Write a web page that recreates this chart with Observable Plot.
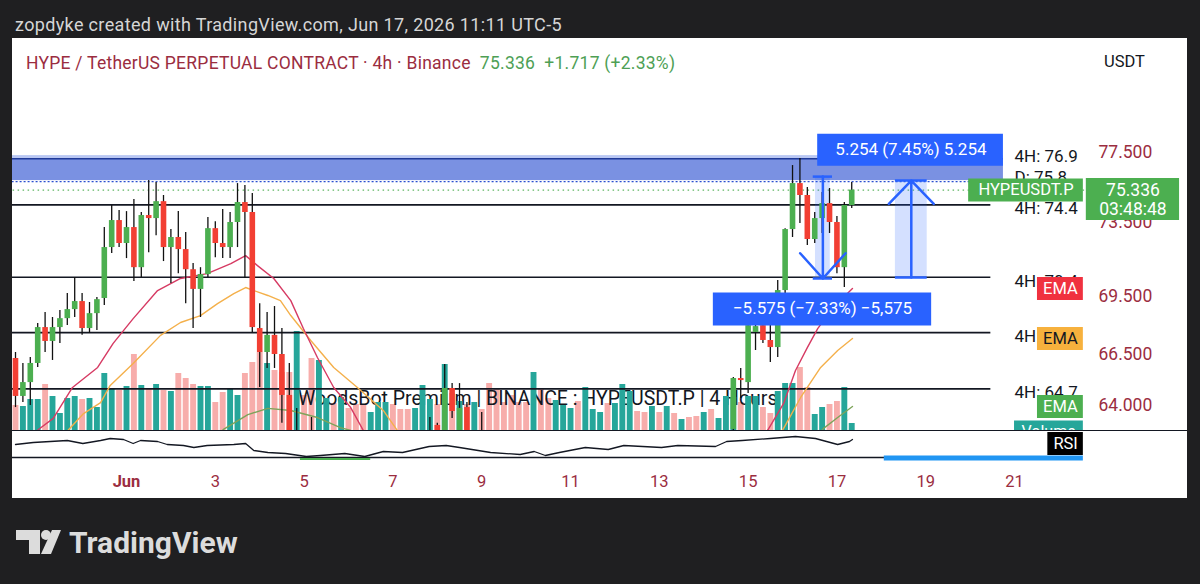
<!DOCTYPE html>
<html>
<head>
<meta charset="utf-8">
<script src="https://cdn.jsdelivr.net/npm/d3@7"></script>
<script src="https://cdn.jsdelivr.net/npm/@observablehq/plot@0.6"></script>
<style>
  html, body { margin:0; padding:0; }
  body { width:1200px; height:584px; background:#1f1f21; position:relative; overflow:hidden; font-family: Roboto, "Noto Sans", sans-serif; }
  .abs { position:absolute; }
  #topline { left:15px; top:14px; font-size:18px; letter-spacing:0.35px; line-height:22px; color:#d6d6d6; white-space:nowrap; }
  #panel { left:12px; top:38px; width:1175px; height:460px; background:#ffffff; }
  #title { left:26px; top:52px; font-size:17.5px; letter-spacing:0.25px; line-height:22px; white-space:nowrap; color:#9b2d3f; }
  #title .g { color:#4e9f55; }
  #usdt { left:1104px; top:51px; font-size:16.5px; line-height:22px; color:#131722; }
  #watermark { left:298px; top:387px; font-size:19.5px; line-height:24px; color:#131722; white-space:nowrap; }
  .layer { left:12px; overflow:hidden; }
  #volDown, #volUp, #main { top:38px; width:1175px; height:392px; }
  #rsi { top:430px; width:1175px; height:68px; }
  #sep { left:12px; top:430px; width:1175px; height:1px; background:#131722; }
  #logo { left:14px; top:526px; }
</style>
</head>
<body>
<div id="panel" class="abs"></div>
<div id="topline" class="abs">zopdyke created with TradingView.com, Jun 17, 2026 11:11 UTC-5</div>
<div id="title" class="abs">HYPE / TetherUS PERPETUAL CONTRACT · 4h · Binance&nbsp; <span class="g">75.336&nbsp; +1.717 (+2.33%)</span></div>
<div id="usdt" class="abs">USDT</div>
<div id="volDown" class="abs layer"></div>
<div id="watermark" class="abs">WoodsBot Premium | BINANCE : HYPEUSDT.P | 4 Hours</div>
<div id="volUp" class="abs layer"></div>
<div id="main" class="abs layer"></div>
<div id="rsi" class="abs layer"></div>
<div id="sep" class="abs"></div>
<div id="logo" class="abs">
  <svg width="240" height="40" viewBox="0 0 240 40">
    <path d="M2 4 H26 V28 H15 V14 H2 Z" fill="#dcdcdc"/>
    <circle cx="32" cy="9" r="5" fill="#dcdcdc"/>
    <polygon points="38,4 47,4 37,28 27,28" fill="#dcdcdc"/>
    <text x="55" y="27" font-size="30" font-weight="700" fill="#dcdcdc" font-family="Roboto, sans-serif">TradingView</text>
  </svg>
</div>
<script>
// 4h bars, index 0 = May 29 12:00; index 15 = Jun 1 00:00
const barIndex = d3.range(114);
const open = [66.32,64.44,65.12,66.07,67.89,67.18,67.89,68.35,68.82,69.24,
  67.84,68.61,69.40,72.13,73.62,72.35,73.23,71.04,73.90,73.73,
  74.68,72.13,72.68,72.02,70.93,69.88,70.67,73.17,72.35,72.13,
  73.51,74.63,74.07,67.84,66.62,67.49,66.52,64.49,62.50,null,
  62.40,null,null,null,null,null,null,null,null,null,
  null,null,null,null,null,null,62.30,63.04,62.40,64.83,
  62.50,63.90,null,62.40,null,null,null,null,null,null,
  null,null,null,null,null,null,null,null,null,null,
  null,null,null,null,null,null,null,null,null,null,
  null,null,null,null,null,null,null,62.85,65.32,65.12,
  67.64,67.99,67.23,66.87,69.82,73.12,75.71,75.03,72.57,73.73,
  74.57,73.51,71.04,74.46];
const close = [64.44,65.12,66.07,67.89,67.18,67.89,68.35,68.82,69.24,67.84,
  68.61,69.34,72.13,73.62,72.35,73.23,71.04,73.90,73.73,74.68,
  72.13,72.68,72.02,70.93,69.88,70.67,73.17,72.35,72.13,73.51,
  74.63,74.07,67.89,66.62,67.49,66.52,64.49,62.30,62.20,null,
  62.20,null,null,null,null,null,null,null,null,null,
  null,null,null,null,null,null,62.50,62.50,64.83,63.71,
  63.86,62.50,null,62.60,null,null,null,null,null,null,
  null,null,null,null,null,null,null,null,null,null,
  null,null,null,null,null,null,null,null,null,null,
  null,null,null,null,null,null,null,65.32,65.22,67.99,
  67.94,67.23,66.87,69.82,73.12,75.71,75.03,72.57,73.73,74.57,
  73.51,71.04,74.46,75.336];
const high = [66.62,66.07,66.37,68.10,68.67,68.41,68.77,69.66,70.51,69.66,
  69.19,69.45,73.23,74.46,74.18,74.12,74.80,74.07,75.88,75.77,
  75.03,73.12,74.12,72.95,71.26,71.04,73.79,73.56,74.24,74.07,
  75.71,75.60,75.14,69.13,68.67,68.98,67.84,66.07,63.86,null,
  63.42,null,null,null,null,null,null,null,null,null,
  null,null,null,null,null,null,63.42,63.14,66.02,65.07,
  65.07,64.14,null,63.66,null,null,null,null,null,null,
  null,null,null,null,null,null,null,null,null,null,
  null,null,null,null,null,null,null,null,null,null,
  null,null,null,null,null,null,null,65.37,65.82,68.51,
  68.51,68.82,68.41,70.35,73.17,76.75,77.16,75.48,74.07,75.20,
  75.43,73.85,74.63,75.77];
const low = [63.90,64.14,64.00,65.87,66.62,66.22,67.08,67.99,68.41,67.49,
  67.59,67.74,69.03,71.80,72.13,71.53,70.30,70.51,71.85,72.78,
  71.37,70.19,70.72,69.13,67.84,68.41,70.51,71.58,71.53,71.53,
  72.13,70.46,67.64,64.88,65.82,65.82,63.14,61.80,61.60,null,
  61.50,null,null,null,null,null,null,null,null,null,
  null,null,null,null,null,null,61.80,62.20,62.00,63.37,
  62.20,62.10,null,62.00,null,null,null,null,null,null,
  null,null,null,null,null,null,null,null,null,null,
  null,null,null,null,null,null,null,null,null,null,
  null,null,null,null,null,null,null,62.80,64.34,64.58,
  66.72,67.08,66.12,66.37,69.13,72.68,73.45,72.24,72.35,72.90,
  72.90,70.72,69.98,74.30];
const volume = [300,288,372,372,552,408,204,384,408,372,
  384,276,684,504,480,528,912,540,492,552,
  480,468,684,624,552,528,528,336,456,504,
  420,684,816,936,804,720,696,696,1188,420,
  864,840,384,324,396,264,312,300,216,336,
  336,312,252,252,264,540,372,312,792,444,
  348,312,336,252,564,492,336,420,336,336,
  696,504,384,360,300,264,348,516,252,216,
  324,324,552,468,228,216,288,216,288,204,
  132,156,168,216,252,144,408,396,336,408,
  408,276,204,468,564,564,756,516,192,276,
  312,348,516,84];
const volumeUp = [0,1,1,1,0,1,1,1,1,0,
  1,1,1,1,0,1,0,1,0,1,
  0,1,0,0,0,1,1,0,0,1,
  1,0,0,0,1,0,0,0,1,0,
  0,1,1,0,1,0,0,0,1,1,
  1,0,0,0,1,1,1,0,1,0,
  1,0,1,0,0,0,0,0,0,0,
  1,0,0,1,1,1,0,1,1,1,
  0,1,1,1,0,0,1,0,1,0,
  1,0,0,1,0,1,1,1,0,1,
  1,0,0,1,1,1,0,0,1,1,
  0,0,1,1];

const emaFastAt = [1.5,3.1,5.1,7.7,11.1,13.2,15.9,19.2,22.3,25.9,29.1,31.1,32.7,34.9,37.2,38.9,40.8,43.0,45.3,47.0,48.5,100.3,101.8,103.8,105.4,107.0,108.4,110.5,113.1];
const emaFast = [62.2,62.85,63.38,64.88,65.87,67.08,68.35,69.82,70.46,70.72,71.26,71.69,71.15,70.46,69.29,67.84,66.37,64.88,63.90,62.80,62.1,62.1,62.90,64.10,65.72,66.87,67.84,68.93,69.93];
const emaMidAt = [5.5,7.2,9.2,11.5,12.8,15.9,19.6,22.3,25.0,27.3,29.5,31.1,32.2,34.1,35.8,37.2,39.9,43.0,46.2,49.7,51.6,53.5,102.2,103.8,106.1,108.8,111.1,113.1];
const emaMid = [62.1,62.85,63.61,64.14,64.98,66.07,67.49,68.15,68.51,69.13,69.66,69.98,69.82,69.56,69.29,68.51,67.23,65.87,64.88,63.76,62.80,62.1,62.1,62.90,64.39,65.87,66.72,67.33];
const emaSlowAt = [26.0,28.1,31.4,34.1,37.2,40.8,43.9,45.3,47.5,107.5,109.2,111.1,113.1];
const emaSlow = [62.2,62.85,63.56,63.86,63.76,63.42,62.94,62.80,62.2,62.2,62.90,63.42,63.95];

const rsiAt = [0,2.4,7.0,9.1,11.5,12.8,14.6,15.9,16.9,19.2,20.5,22.7,24.1,25.9,29.5,31.1,32.2,34.1,36.5,39.3,41.2,44.5,47.2,49.7,52.3,55.9,58.2,60.0,64.2,68.2,70.1,71.6,73.5,77.0,80.1,82.2,87.3,89.5,94.6,96.1,98.2,102.0,105.4,108.1,110.1,111.1,112.7,113.1];
const rsi = [49.5,52.5,55.5,51,55.5,58.5,57,51,55.5,54,49.5,48,45,48,49.5,51,40.5,37.5,36,31.5,33,36,31.5,39,37.5,46.5,48,45,37.5,34.5,39,33,37.5,45,42,48,45,48,46.5,54,55.5,58.5,61.5,58.5,52.5,49.5,54,57];

const dayTicks = [15,27,39,51,63,75,87,99,111,123,135];
const dayLabels = ["Jun","3","5","7","9","11","13","15","17","19","21"];
const priceTicks = [77.5,73.5,69.5,66.5,64.0];

const levels = [74.50,70.53,67.63,64.81];
const levelLabels = ["4H: 74.4","4H: 70.4","4H: 67.6","4H: 64.7"];
const zoneTop = 77.33, zoneLine = 77.15, zoneBottom = 75.88, dailyLevel = 75.82;
const zoneLabels = ["4H: 76.9","D: 75.8"];
const zoneLabelAt = [77.27, 76.08];
const lastPrice = 75.336;
const countdown = "03:48:48";
const longMeasure = {from:70.51, to:75.88, label:"5.254 (7.45%) 5.254", labelAt:77.68};
const shortMeasure = {from:76.11, to:70.46, label:"\u22125.575 (\u22127.33%) \u22125,575", labelAt:68.85};

// ---- layout constants (index / price units)
const xDomain = [-0.405, 144.86];
const font = "Roboto, 'Noto Sans', sans-serif";
const upC = "#4caf50", downC = "#f23f33";
const teal = "#26a69a", pink = "#ef5350";
const labelX = 135.0;
const levelEnd = 131.8, zoneEnd = 133.5;

const candles = barIndex.map(i => ({i, o:open[i], h:high[i], l:low[i], c:close[i]})).filter(d => d.o != null);
const volRows = barIndex.map(i => ({i, v:volume[i], up:volumeUp[i]}));
const fastRows = emaFastAt.map((at,k) => ({at, v:emaFast[k]}));
const midRows = emaMidAt.map((at,k) => ({at, v:emaMid[k]}));
const slowRows = emaSlowAt.map((at,k) => ({at, v:emaSlow[k]}));
const rsiRows = rsiAt.map((at,k) => ({at, v:rsi[k]}));
const emaTags = [
  {v: emaFast[emaFast.length-1], bg:"#f0313f", fg:"#ffffff"},
  {v: emaMid[emaMid.length-1], bg:"#f7b13d", fg:"#131722"},
  {v: emaSlow[emaSlow.length-1], bg:"#4caf50", fg:"#ffffff"}
];
const levelRows = levels.map((v,k) => ({v, t:levelLabels[k]}));
const zoneRows = zoneLabels.map((t,k) => ({t, v:zoneLabelAt[k]}));

// ---- volume layers (down bars under the watermark, up bars above it)
function volumeLayer(rows, color, opacity) {
  return Plot.plot({
    width:1175, height:392, marginTop:0, marginRight:100, marginBottom:0, marginLeft:0,
    x:{domain:xDomain, axis:null},
    y:{domain:[0,1200], range:[392,292], axis:null},
    style:{background:"transparent", fontFamily:font},
    marks:[Plot.ruleX(rows, {x:"i", y1:0, y2:"v", stroke:color, strokeOpacity:opacity, strokeWidth:5.9})]
  });
}
document.getElementById("volDown").appendChild(volumeLayer(volRows.filter(d => !d.up), pink, 0.48));
document.getElementById("volUp").appendChild(volumeLayer(volRows.filter(d => d.up), teal, 1));

// ---- main price layer
const mainPlot = Plot.plot({
  width:1175, height:392, marginTop:0, marginRight:100, marginBottom:0, marginLeft:0,
  x:{domain:xDomain, axis:null},
  y:{type:"log", domain:[62.80, 84.50], axis:null},
  color:{type:"identity"},
  style:{background:"transparent", fontFamily:font},
  marks:[
    Plot.rect([{a:-1, b:zoneEnd, y1:zoneLine, y2:zoneTop}], {x1:"a", x2:"b", y1:"y1", y2:"y2", fill:"#b9c7f3"}),
    Plot.rect([{a:-1, b:zoneEnd, y1:zoneBottom, y2:zoneLine}], {x1:"a", x2:"b", y1:"y1", y2:"y2", fill:"#7a91e2"}),
    Plot.ruleY([zoneLine], {x1:-1, x2:zoneEnd, stroke:"#1f3a98", strokeWidth:1.6}),
    Plot.ruleY([dailyLevel], {x1:-1, x2:zoneEnd, stroke:"#2a4fd0", strokeWidth:1.3, strokeDasharray:"2,2"}),
    Plot.ruleY([lastPrice], {x1:-1, x2:144.86, stroke:"#5fb563", strokeWidth:1.3, strokeDasharray:"1.5,3.5"}),
    Plot.ruleY(levels, {x1:-1, x2:levelEnd, stroke:"#131722", strokeWidth:1.6}),
    // measure zones
    Plot.rect([{a:118.9, b:123.2, y1:longMeasure.from, y2:longMeasure.to}], {x1:"a", x2:"b", y1:"y1", y2:"y2", fill:"#2962ff", fillOpacity:0.2}),
    Plot.rect([{a:108.1, b:110.1, y1:shortMeasure.to, y2:shortMeasure.from}], {x1:"a", x2:"b", y1:"y1", y2:"y2", fill:"#2962ff", fillOpacity:0.2}),
    // EMAs
    Plot.line(slowRows, {x:"at", y:"v", stroke:"#7ea45a", strokeWidth:1.4}),
    Plot.line(midRows, {x:"at", y:"v", stroke:"#f4b04b", strokeWidth:1.4}),
    Plot.line(fastRows, {x:"at", y:"v", stroke:"#d63a63", strokeWidth:1.4}),
    // candles
    Plot.ruleX(candles, {x:"i", y1:"l", y2:"h", stroke:"#111111", strokeWidth:1.3}),
    Plot.ruleX(candles, {x:"i", y1:"o", y2:"c", stroke:d => d.c >= d.o ? upC : downC, strokeWidth:5.6}),
    // measure arrows
    Plot.ruleY([longMeasure.from, longMeasure.to], {x1:118.9, x2:123.2, stroke:"#2962ff", strokeWidth:2.5}),
    Plot.arrow([longMeasure], {x1:121.05, x2:121.05, y1:"from", y2:"to", stroke:"#2962ff", strokeWidth:2.5, headAngle:88, headLength:21}),
    Plot.ruleY([shortMeasure.from, shortMeasure.to], {x1:107.8, x2:110.4, stroke:"#2962ff", strokeWidth:2.5}),
    Plot.arrow([shortMeasure], {x1:109.1, x2:109.1, y1:"from", y2:"to", stroke:"#2962ff", strokeWidth:2.5, headAngle:84, headLength:21}),
    // measure labels
    Plot.ruleY([longMeasure.labelAt], {x1:108.4, x2:133.5, stroke:"#2962ff", strokeWidth:32}),
    Plot.text([longMeasure], {x:121.0, y:"labelAt", text:"label", fill:"#ffffff", fontSize:17}),
    Plot.ruleY([shortMeasure.labelAt], {x1:94.3, x2:123.8, stroke:"#2962ff", strokeWidth:33}),
    Plot.text([shortMeasure], {x:109.05, y:"labelAt", text:"label", fill:"#ffffff", fontSize:17}),
    // right labels
    Plot.text(zoneRows, {x:labelX, y:"v", text:"t", textAnchor:"start", fill:"#131722", fontSize:17}),
    Plot.text(levelRows, {x:labelX, y:"v", text:"t", textAnchor:"start", fill:"#131722", fontSize:17, dy:4}),
    Plot.axisY(priceTicks, {anchor:"right", label:null, tickSize:0, tickPadding:11, tickFormat:d => d.toFixed(3), fill:"#9b2d3f", fontSize:17.5}),
    // symbol + last price tags
    Plot.ruleY([lastPrice], {x1:128.8, x2:144.3, stroke:"#4caf50", strokeWidth:23}),
    Plot.text([lastPrice], {x:136.55, y:d => d, text:() => "HYPEUSDT.P", fill:"#ffffff", fontSize:16.5}),
    Plot.ruleY([lastPrice], {x1:144.7, x2:157.3, stroke:"#4caf50", strokeWidth:42, dy:9}),
    Plot.text([lastPrice], {x:151.0, y:d => d, text:d => d.toFixed(3), fill:"#ffffff", fontSize:17.5}),
    Plot.text([lastPrice], {x:151.0, y:d => d, text:() => countdown, fill:"#ffffff", fontSize:17.5, dy:19}),
    // EMA tags
    Plot.ruleY(emaTags, {y:"v", x1:138.1, x2:144.3, stroke:"bg", strokeWidth:23}),
    Plot.text(emaTags, {x:141.2, y:"v", text:() => "EMA", fill:"fg", fontSize:16.5}),
    Plot.ruleY([62.75], {x1:135.0, x2:144.3, stroke:teal, strokeWidth:22}),
    Plot.text([62.75], {x:139.6, y:d => d, text:() => "Volume", fill:"#ffffff", fontSize:16})
  ]
});
document.getElementById("main").appendChild(mainPlot);

// ---- RSI + time axis layer
const dayLabelOf = new Map(dayTicks.map((d,k) => [d, dayLabels[k]]));
const rsiPlot = Plot.plot({
  width:1175, height:68, marginTop:0, marginRight:100, marginBottom:40, marginLeft:0,
  x:{domain:xDomain, axis:null},
  y:{domain:[28.5,70.5], axis:null},
  style:{background:"transparent", fontFamily:font},
  marks:[
    Plot.ruleY([30], {x1:-1, x2:117.5, stroke:"#131722", strokeWidth:1.3}),
    Plot.ruleY([30], {x1:38.5, x2:48, stroke:"#4caf50", strokeWidth:2, dy:1.5}),
    Plot.line(rsiRows, {x:"at", y:"v", stroke:"#131722", strokeWidth:1.3}),
    Plot.ruleY([30], {x1:117.4, x2:144.3, stroke:"#2196f3", strokeWidth:5, dy:0.5}),
    Plot.ruleY([51], {x1:139.5, x2:144.3, stroke:"#000000", strokeWidth:23}),
    Plot.text([51], {x:141.9, y:d => d, text:() => "RSI", fill:"#ffffff", fontSize:16.5}),
    Plot.axisX(dayTicks.slice(0,1), {anchor:"bottom", label:null, tickSize:0, tickPadding:17, tickFormat:d => dayLabelOf.get(d), fill:"#9b2d3f", fontSize:16.5, fontWeight:"bold"}),
    Plot.axisX(dayTicks.slice(1), {anchor:"bottom", label:null, tickSize:0, tickPadding:17, tickFormat:d => dayLabelOf.get(d), fill:"#9b2d3f", fontSize:16.5})
  ]
});
document.getElementById("rsi").appendChild(rsiPlot);
</script>
</body>
</html>
